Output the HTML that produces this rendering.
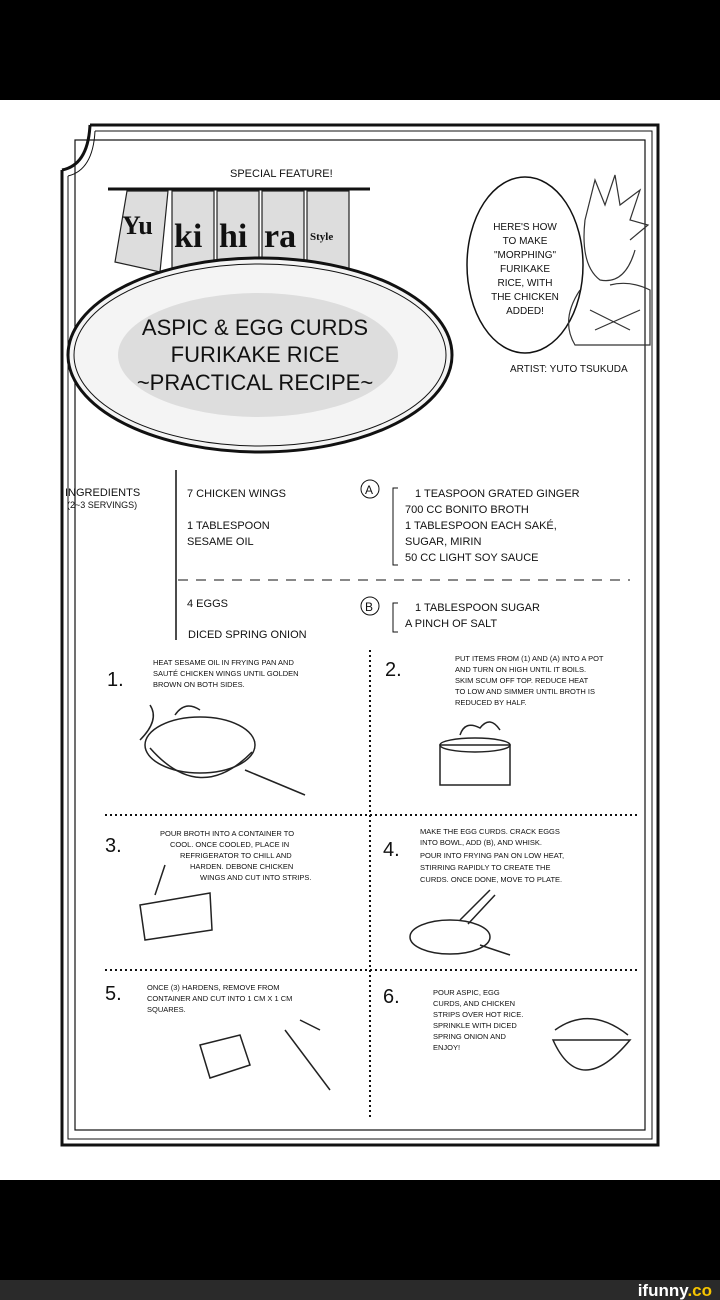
<!DOCTYPE html>
<html><head><meta charset="utf-8"><style>
html,body{margin:0;padding:0;background:#fff}
svg{display:block}
text{font-family:"Liberation Sans",sans-serif;fill:#111}
.s{font-size:9px}
.m{font-size:12px}
</style></head><body>
<svg width="720" height="1300" viewBox="0 0 720 1300" xmlns="http://www.w3.org/2000/svg">
<rect x="0" y="0" width="720" height="100" fill="#000"/>
<rect x="0" y="1180" width="720" height="100" fill="#000"/>
<rect x="0" y="1280" width="720" height="20" fill="#2a2a2a"/>
<text x="712" y="1296" text-anchor="end" style="font-size:17px;font-weight:bold;fill:#fff">ifunny<tspan style="fill:#f5c400">.co</tspan></text>
<!-- frame -->
<g fill="none" stroke="#111">
<path d="M90 125 H658 V1145 H62 V170" stroke-width="3"/>
<path d="M90 125 Q88 165 62 170" stroke-width="3"/>
<path d="M95 131 H652 V1139 H68 V176" stroke-width="1"/>
<path d="M95 131 Q93 170 68 176" stroke-width="1"/>
<rect x="75" y="140" width="570" height="990" stroke-width="1.2"/>
</g>
<!-- title -->
<text x="230" y="177" style="font-size:11px">SPECIAL FEATURE!</text>
<line x1="108" y1="189" x2="370" y2="189" stroke="#111" stroke-width="3"/>
<g stroke="#222" stroke-width="1.2" fill="#ddd">
<path d="M127 191 L168 191 L160 272 L115 262 Z"/>
<rect x="172" y="191" width="42" height="79"/>
<rect x="217" y="191" width="42" height="79"/>
<rect x="262" y="191" width="42" height="79"/>
<rect x="307" y="191" width="42" height="79"/>
</g>
<text x="122" y="234" style="font-family:'Liberation Serif',serif;font-size:26px;font-weight:bold">Yu</text>
<text x="174" y="247" style="font-family:'Liberation Serif',serif;font-size:34px;font-weight:bold">ki</text>
<text x="219" y="247" style="font-family:'Liberation Serif',serif;font-size:34px;font-weight:bold">hi</text>
<text x="264" y="247" style="font-family:'Liberation Serif',serif;font-size:34px;font-weight:bold">ra</text>
<text x="310" y="240" style="font-family:'Liberation Serif',serif;font-size:11px;font-weight:bold">Style</text>
<ellipse cx="260" cy="355" rx="192" ry="97" fill="#f4f4f4" stroke="#111" stroke-width="3"/>
<ellipse cx="260" cy="355" rx="186" ry="91" fill="none" stroke="#111" stroke-width="1"/>
<ellipse cx="258" cy="355" rx="140" ry="62" fill="#ddd"/>
<text x="255" y="335" text-anchor="middle" style="font-size:22px">ASPIC &amp; EGG CURDS</text>
<text x="255" y="362" text-anchor="middle" style="font-size:22px">FURIKAKE RICE</text>
<text x="255" y="390" text-anchor="middle" style="font-size:22px">~PRACTICAL RECIPE~</text>
<!-- bubble -->
<ellipse cx="525" cy="265" rx="58" ry="88" fill="#fff" stroke="#111" stroke-width="1.5"/>
<g class="s" text-anchor="middle" style="font-size:10px">
<text x="525" y="230">HERE'S HOW</text><text x="525" y="244">TO MAKE</text>
<text x="525" y="258">"MORPHING"</text><text x="525" y="272">FURIKAKE</text>
<text x="525" y="286">RICE, WITH</text><text x="525" y="300">THE CHICKEN</text>
<text x="525" y="314">ADDED!</text></g>
<!-- character sketch -->
<g fill="none" stroke="#333" stroke-width="1.2">
<path d="M585 220 L595 180 L605 205 L615 175 L620 205 L640 190 L630 220 L648 225 L630 240"/>
<path d="M585 220 Q580 265 600 280 Q625 285 635 250"/>
<path d="M580 290 Q560 320 575 345 H650 V290 Q630 280 610 285"/>
<path d="M590 310 L630 330 M595 330 L640 310"/>
</g>
<text x="510" y="372" style="font-size:10px">ARTIST: YUTO TSUKUDA</text>
<!-- ingredients -->
<g style="font-size:11px">
<text x="65" y="496">INGREDIENTS</text>
<text x="67" y="508" style="font-size:9px">(2~3 SERVINGS)</text>
<text x="187" y="497">7 CHICKEN WINGS</text>
<text x="187" y="529">1 TABLESPOON</text>
<text x="187" y="545">SESAME OIL</text>
<text x="187" y="607">4 EGGS</text>
<text x="188" y="638">DICED SPRING ONION</text>
<text x="415" y="497">1 TEASPOON GRATED GINGER</text>
<text x="405" y="513">700 CC BONITO BROTH</text>
<text x="405" y="529">1 TABLESPOON EACH SAKÉ,</text>
<text x="405" y="545">SUGAR, MIRIN</text>
<text x="405" y="561">50 CC LIGHT SOY SAUCE</text>
<text x="415" y="611">1 TABLESPOON SUGAR</text>
<text x="405" y="627">A PINCH OF SALT</text>
</g>
<line x1="176" y1="470" x2="176" y2="640" stroke="#111" stroke-width="1.5"/>
<line x1="178" y1="580" x2="630" y2="580" stroke="#111" stroke-dasharray="10 8"/>
<circle cx="370" cy="489" r="9" fill="none" stroke="#111"/><text x="365" y="494" style="font-size:12px">A</text>
<circle cx="370" cy="606" r="9" fill="none" stroke="#111"/><text x="365" y="611" style="font-size:12px">B</text>
<path d="M398 488 H393 V565 H398" fill="none" stroke="#111"/>
<path d="M398 603 H393 V632 H398" fill="none" stroke="#111"/>
<!-- grid -->
<g stroke="#111" stroke-width="2" stroke-dasharray="2 3">
<line x1="370" y1="650" x2="370" y2="1120"/>
<line x1="105" y1="815" x2="640" y2="815"/>
<line x1="105" y1="970" x2="640" y2="970"/>
</g>
<g style="font-size:20px">
<text x="107" y="686">1.</text><text x="385" y="676">2.</text>
<text x="105" y="852">3.</text><text x="383" y="856">4.</text>
<text x="105" y="1000">5.</text><text x="383" y="1003">6.</text>
</g>
<g style="font-size:7.5px">
<text x="153" y="665">HEAT SESAME OIL IN FRYING PAN AND</text>
<text x="153" y="676">SAUTÉ CHICKEN WINGS UNTIL GOLDEN</text>
<text x="153" y="687">BROWN ON BOTH SIDES.</text>
<text x="455" y="661">PUT ITEMS FROM (1) AND (A) INTO A POT</text>
<text x="455" y="672">AND TURN ON HIGH UNTIL IT BOILS.</text>
<text x="455" y="683">SKIM SCUM OFF TOP. REDUCE HEAT</text>
<text x="455" y="694">TO LOW AND SIMMER UNTIL BROTH IS</text>
<text x="455" y="705">REDUCED BY HALF.</text>
<text x="160" y="836">POUR BROTH INTO A CONTAINER TO</text>
<text x="170" y="847">COOL. ONCE COOLED, PLACE IN</text>
<text x="180" y="858">REFRIGERATOR TO CHILL AND</text>
<text x="190" y="869">HARDEN. DEBONE CHICKEN</text>
<text x="200" y="880">WINGS AND CUT INTO STRIPS.</text>
<text x="420" y="834">MAKE THE EGG CURDS. CRACK EGGS</text>
<text x="420" y="845">INTO BOWL, ADD (B), AND WHISK.</text>
<text x="420" y="858">POUR INTO FRYING PAN ON LOW HEAT,</text>
<text x="420" y="870">STIRRING RAPIDLY TO CREATE THE</text>
<text x="420" y="882">CURDS. ONCE DONE, MOVE TO PLATE.</text>
<text x="147" y="990">ONCE (3) HARDENS, REMOVE FROM</text>
<text x="147" y="1001">CONTAINER AND CUT INTO 1 CM X 1 CM</text>
<text x="147" y="1012">SQUARES.</text>
<text x="433" y="995">POUR ASPIC, EGG</text>
<text x="433" y="1006">CURDS, AND CHICKEN</text>
<text x="433" y="1017">STRIPS OVER HOT RICE.</text>
<text x="433" y="1028">SPRINKLE WITH DICED</text>
<text x="433" y="1039">SPRING ONION AND</text>
<text x="433" y="1050">ENJOY!</text>
</g>
<!-- illustrations -->
<g fill="none" stroke="#222" stroke-width="1.5">
<ellipse cx="200" cy="745" rx="55" ry="28"/><path d="M150 748 Q200 805 252 752"/><path d="M245 770 L305 795"/>
<path d="M140 740 Q160 720 150 705 M175 715 Q185 700 200 710"/>
<rect x="440" y="745" width="70" height="40"/><ellipse cx="475" cy="745" rx="35" ry="7"/>
<path d="M460 735 Q465 720 480 728 Q490 715 500 730"/>
<path d="M140 905 L210 893 L212 930 L145 940 Z"/><path d="M155 895 L165 865"/>
<ellipse cx="450" cy="937" rx="40" ry="17"/><path d="M480 945 L510 955"/><path d="M460 920 L490 890 M468 924 L495 895"/>
<path d="M200 1045 L240 1035 L250 1065 L210 1078 Z"/><path d="M285 1030 L330 1090"/><path d="M300 1020 L320 1030"/>
<path d="M553 1040 Q580 1100 630 1040 Z"/><path d="M555 1030 Q590 1005 628 1035"/>
</g>
</svg>
</body></html>
